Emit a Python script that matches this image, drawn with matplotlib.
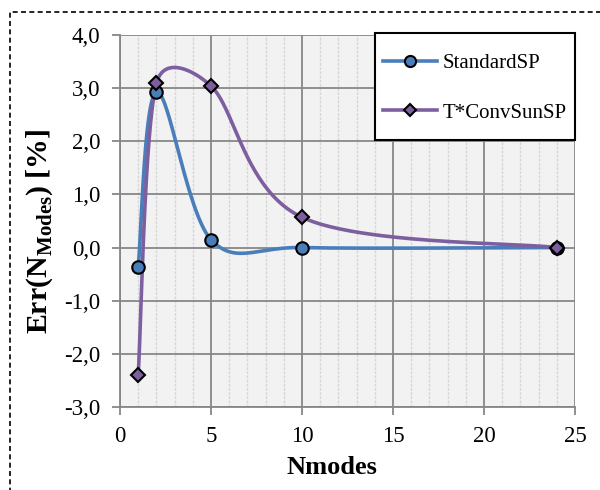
import numpy as np
import matplotlib
matplotlib.use("Agg")
import matplotlib.pyplot as plt
from matplotlib.ticker import FuncFormatter, MultipleLocator
from matplotlib.patches import Rectangle

nmodes = [1, 2, 5, 10, 24]
standard_sp = [-0.37, 2.93, 0.15, 0.0, 0.0]
tconv_sun_sp = [-2.39, 3.09, 3.04, 0.57, 0.0]
series_names = ["StandardSP", "T*ConvSunSP"]

plt.rcParams['font.family'] = ['Liberation Serif', 'DejaVu Serif']
plt.rcParams['mathtext.fontset'] = 'custom'
plt.rcParams['mathtext.rm'] = 'Liberation Serif'
plt.rcParams['mathtext.bf'] = 'Liberation Serif:bold'


def excel_smooth(ax, xs, ys, n=80):
    # Excel-like smoothed line, computed in display (pixel) space
    P = ax.transData.transform(np.column_stack([xs, ys]).astype(float))
    out = []
    m = len(P)
    for i in range(m - 1):
        p0 = P[i - 1] if i > 0 else P[i]
        p1 = P[i]
        p2 = P[i + 1]
        p3 = P[i + 2] if i + 2 < m else P[i + 1]
        half = np.linalg.norm(p2 - p1) / 2.0
        v1 = (p2 - p0) / 6.0
        v2 = (p3 - p1) / 6.0
        if np.linalg.norm(v1) > half:
            v1 = v1 / np.linalg.norm(v1) * half
        if np.linalg.norm(v2) > half:
            v2 = v2 / np.linalg.norm(v2) * half
        c1 = p1 + v1
        c2 = p2 - v2
        t = np.linspace(0, 1, n)[:, None]
        seg = ((1 - t) ** 3) * p1 + 3 * ((1 - t) ** 2) * t * c1 + 3 * (1 - t) * t ** 2 * c2 + t ** 3 * p2
        out.append(seg if i == 0 else seg[1:])
    s = ax.transData.inverted().transform(np.vstack(out))
    return s[:, 0], s[:, 1]


fig = plt.figure(figsize=(6.0, 4.9), dpi=100)
ax = fig.add_axes([120 / 600, 1 - 407 / 490, 455 / 600, 372 / 490])
ax.set_facecolor('#F2F2F2')

ax.set_xlim(0, 25)
ax.set_ylim(-3, 4)
ax.xaxis.set_major_locator(MultipleLocator(5))
ax.xaxis.set_minor_locator(MultipleLocator(1))
ax.yaxis.set_major_locator(MultipleLocator(1))
ax.yaxis.set_major_formatter(FuncFormatter(lambda v, p: f"{v:.1f}".replace('.', ',')))

ax.grid(True, which='major', color='#878787', lw=1.3, zorder=1)
ax.grid(True, which='minor', axis='x', color='#D6D6D6', lw=1.0, ls=(0, (2, 1)), zorder=0)
ax.set_axisbelow(True)

for s in ['top', 'right']:
    ax.spines[s].set_visible(False)
for s in ['left', 'bottom']:
    ax.spines[s].set_color('#878787')
    ax.spines[s].set_linewidth(1.3)
ax.tick_params(which='major', length=6, width=1.3, color='#878787', labelsize=16.5)
ax.tick_params(axis='y', pad=8)
ax.tick_params(axis='x', pad=8)
ax.tick_params(which='minor', length=0)

blue = '#4A7EBB'
purple = '#7D5FA0'

sx, sy = excel_smooth(ax, nmodes, standard_sp)
ax.plot(sx, sy, color=blue, lw=2.6, zorder=3)
ax.plot(nmodes, standard_sp, ls='none', marker='o', ms=9, mfc=blue, mec='black', mew=1.5, zorder=4)
ax.plot([], [], color=blue, lw=2.6, marker='o', ms=8, mfc=blue, mec='black', mew=1.5, label=series_names[0])

tx, ty = excel_smooth(ax, nmodes, tconv_sun_sp)
ax.plot(tx, ty, color=purple, lw=2.6, zorder=3)
ax.plot(nmodes, tconv_sun_sp, ls='none', marker='D', ms=7.5, mfc=purple, mec='black', mew=1.5, zorder=5)
ax.plot([], [], color=purple, lw=2.6, marker='D', ms=6, mfc=purple, mec='black', mew=1.5, label=series_names[1])

# legend box (frame drawn separately to get Excel-like padding)
fig.patches.append(Rectangle((375 / 600, 1 - 140 / 490), 200 / 600, 107 / 490, transform=fig.transFigure,
                             fc='white', ec='black', lw=1.5, zorder=5))
leg = fig.legend(loc='center left', bbox_to_anchor=(383 / 600, 1 - 88 / 490), frameon=False,
                 fontsize=15, handlelength=2.6, labelspacing=1.45,
                 borderpad=0.0, handletextpad=0.25, borderaxespad=0)
leg.set_zorder(10)

ax.set_xlabel('Nmodes', fontsize=19, fontweight='bold')
ax.xaxis.set_label_coords((332 - 120) / 455, -(456 - 407) / 372)
ax.set_ylabel(r'Err(N$_{\mathbf{Modes}}$) [%]', fontsize=21.5, fontweight='bold')
ax.yaxis.set_label_coords(-(120 - 55) / 455, (407 - 231) / 372)

fig.patches.append(Rectangle((10 / 600, -0.1), 1.2, 1 - 12 / 490 + 0.1, transform=fig.transFigure,
                             fill=False, ec='black', lw=1.2, ls=(0, (3, 2)), zorder=0))

fig.savefig('out.png', dpi=100)
